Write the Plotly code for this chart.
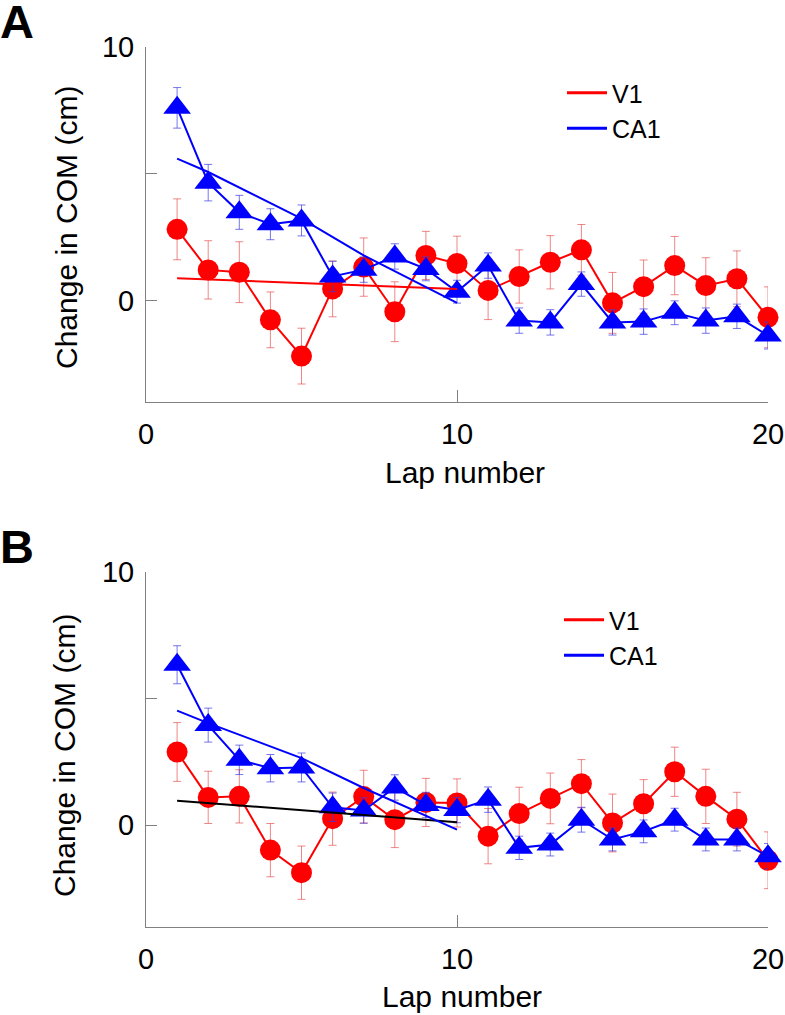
import plotly.graph_objects as go

W, H = 785, 1015
FONT = "Arial, 'Liberation Sans', Helvetica, sans-serif"

# ---------------- data ----------------
laps = list(range(1, 21))
x_ticks = [0, 10, 20]
x_ticklabels = ["0", "10", "20"]
y_ticks = [0, 5, 10]
y_ticklabels = ["0", "", "10"]

# Panel A
v1_A = [2.81, 1.21, 1.12, -0.76, -2.19, 0.46, 1.32, -0.44, 1.78, 1.46,
        0.40, 0.95, 1.51, 2.00, -0.09, 0.55, 1.38, 0.59, 0.86, -0.66]
v1_A_err = [1.2, 1.15, 1.2, 1.1, 1.1, 1.1, 1.15, 1.18, 0.95, 1.08,
            1.15, 1.05, 1.05, 1.0, 1.2, 1.05, 1.15, 1.1, 1.1, 1.2]
ca1_A = [7.60, 4.65, 3.48, 3.01, 3.16, 0.95, 1.22, 1.74, 1.25, 0.35,
         1.38, -0.79, -0.86, 0.65, -0.86, -0.83, -0.48, -0.79, -0.62, -1.38]
ca1_A_err = [0.80, 0.72, 0.67, 0.61, 0.61, 0.6, 0.5, 0.5, 0.47, 0.45,
             0.5, 0.5, 0.5, 0.48, 0.5, 0.5, 0.47, 0.5, 0.48, 0.53]
fitA_v1_x = [1, 10]
fitA_v1_y = [0.88, 0.46]
fitA_ca1_x = [1, 2, 5, 7, 10]
fitA_ca1_y = [5.60, 5.07, 3.23, 1.78, -0.09]

# Panel B
v1_B = [2.89, 1.10, 1.14, -0.98, -1.87, 0.26, 1.13, 0.22, 0.90, 0.88,
        -0.43, 0.46, 1.06, 1.64, 0.09, 0.85, 2.11, 1.14, 0.24, -1.38]
v1_B_err = [1.16, 1.03, 1.05, 1.05, 1.05, 1.05, 1.04, 1.1, 0.95, 0.95,
            1.09, 1.04, 1.0, 0.95, 1.14, 0.95, 0.97, 1.07, 1.06, 1.12]
ca1_B = [6.33, 3.95, 2.58, 2.25, 2.28, 0.71, 0.58, 1.49, 0.80, 0.60,
         1.01, -0.89, -0.76, 0.22, -0.56, -0.24, 0.22, -0.56, -0.56, -1.22]
ca1_B_err = [0.75, 0.67, 0.58, 0.54, 0.57, 0.56, 0.5, 0.5, 0.5, 0.5,
             0.5, 0.46, 0.45, 0.49, 0.45, 0.45, 0.45, 0.45, 0.45, 0.5]
fitB_all_x = [1, 10]
fitB_all_y = [0.97, 0.12]
fitB_ca1_x = [1, 2, 5, 7, 10]
fitB_ca1_y = [4.52, 4.03, 2.65, 1.47, -0.17]

series_names = ["V1", "CA1"]

# ---------------- styling ----------------
RED = "rgb(255,0,0)"
BLUE = "rgb(0,0,255)"
RED_ERR = "rgba(230,70,70,0.65)"
BLUE_ERR = "rgba(60,60,230,0.7)"
AXIS_GRAY = "rgb(128,128,128)"


def px_x(p):
    return p / W


def px_y(p):
    return 1 - p / H


fig = go.Figure()

panels = [
    dict(xa="x", ya="y", lg="legend",
         v1=v1_A, v1e=v1_A_err, ca1=ca1_A, ca1e=ca1_A_err,
         fits=[(fitA_v1_x, fitA_v1_y, RED), (fitA_ca1_x, fitA_ca1_y, BLUE)]),
    dict(xa="x2", ya="y2", lg="legend2",
         v1=v1_B, v1e=v1_B_err, ca1=ca1_B, ca1e=ca1_B_err,
         fits=[(fitB_all_x, fitB_all_y, "black"), (fitB_ca1_x, fitB_ca1_y, BLUE)]),
]

for p in panels:
    fig.add_trace(go.Scatter(
        x=laps, y=p["v1"], mode="lines+markers", xaxis=p["xa"], yaxis=p["ya"],
        line=dict(color=RED, width=2),
        marker=dict(symbol="circle", size=21, color=RED, line=dict(width=0)),
        error_y=dict(type="data", array=p["v1e"], visible=True,
                     color=RED_ERR, thickness=1, width=4),
        showlegend=False, cliponaxis=False))
    fig.add_trace(go.Scatter(
        x=laps, y=p["ca1"], mode="lines+markers", xaxis=p["xa"], yaxis=p["ya"],
        line=dict(color=BLUE, width=2),
        marker=dict(symbol="triangle-up", size=24, color=BLUE, line=dict(width=0)),
        error_y=dict(type="data", array=p["ca1e"], visible=True,
                     color=BLUE_ERR, thickness=1, width=4),
        showlegend=False, cliponaxis=False))
    for fx, fy, col in p["fits"]:
        fig.add_trace(go.Scatter(
            x=fx, y=fy, mode="lines", xaxis=p["xa"], yaxis=p["ya"],
            line=dict(color=col, width=2), showlegend=False, cliponaxis=False))
    for name, col in zip(series_names, [RED, BLUE]):
        fig.add_trace(go.Scatter(
            x=[None], y=[None], mode="lines", name=name,
            xaxis=p["xa"], yaxis=p["ya"], legend=p["lg"],
            line=dict(color=col, width=3), showlegend=True))

xdom = [px_x(146), px_x(768)]
ydomA = [px_y(402), px_y(47)]
ydomB = [px_y(926.7), px_y(571.7)]

common_x = dict(range=[0, 20], tickmode="array", tickvals=x_ticks, ticktext=x_ticklabels,
                ticks="inside", ticklen=12, tickcolor=AXIS_GRAY, tickwidth=1,
                showline=True, linecolor=AXIS_GRAY, linewidth=1,
                showgrid=False, zeroline=False, automargin=False,
                tickfont=dict(family=FONT, size=29, color="black"),
                ticklabelstandoff=6, fixedrange=True)
common_y = dict(range=[-4, 10], tickmode="array", tickvals=y_ticks, ticktext=y_ticklabels,
                ticks="inside", ticklen=11, tickcolor=AXIS_GRAY, tickwidth=1,
                showline=True, linecolor=AXIS_GRAY, linewidth=1,
                showgrid=False, zeroline=False, automargin=False,
                tickfont=dict(family=FONT, size=29, color="black"),
                ticklabelstandoff=5, fixedrange=True)

legend_common = dict(xanchor="left", yanchor="top", bgcolor="rgba(0,0,0,0)",
                     font=dict(family=FONT, size=25, color="black"),
                     tracegroupgap=0, itemwidth=40)

fig.update_layout(
    template="none",
    width=W, height=H,
    margin=dict(l=0, r=0, t=0, b=0, pad=0, autoexpand=False),
    paper_bgcolor="white", plot_bgcolor="white",
    font=dict(family=FONT, color="black"),
    xaxis=dict(domain=xdom, anchor="y", **common_x),
    yaxis=dict(domain=ydomA, anchor="x", **common_y),
    xaxis2=dict(domain=xdom, anchor="y2", **common_x),
    yaxis2=dict(domain=ydomB, anchor="x2", **common_y),
    legend=dict(x=px_x(562), y=px_y(70), **legend_common),
    legend2=dict(x=px_x(559), y=px_y(597), **legend_common),
    showlegend=True,
)

annotations = [
    dict(text="<b>A</b>", x=px_x(-2), y=px_y(21), xanchor="left", yanchor="middle",
         font=dict(size=47)),
    dict(text="<b>B</b>", x=px_x(-2), y=px_y(546), xanchor="left", yanchor="middle",
         font=dict(size=47)),
    dict(text="Lap number", x=px_x(465), y=px_y(472), xanchor="center", yanchor="middle",
         font=dict(size=30)),
    dict(text="Lap number", x=px_x(462), y=px_y(996), xanchor="center", yanchor="middle",
         font=dict(size=30)),
    dict(text="Change in COM (cm)", x=px_x(66), y=px_y(228), xanchor="center",
         yanchor="middle", textangle=-90, font=dict(size=30)),
    dict(text="Change in COM (cm)", x=px_x(64), y=px_y(756), xanchor="center",
         yanchor="middle", textangle=-90, font=dict(size=30)),
]
for a in annotations:
    a.update(xref="paper", yref="paper", showarrow=False)
    a["font"].update(family=FONT, color="black")
fig.update_layout(annotations=annotations)

fig.write_html(
    "out.html",
    config={"displayModeBar": False},
    post_script="document.body.style.margin='0px';document.body.style.overflow='hidden';",
)
